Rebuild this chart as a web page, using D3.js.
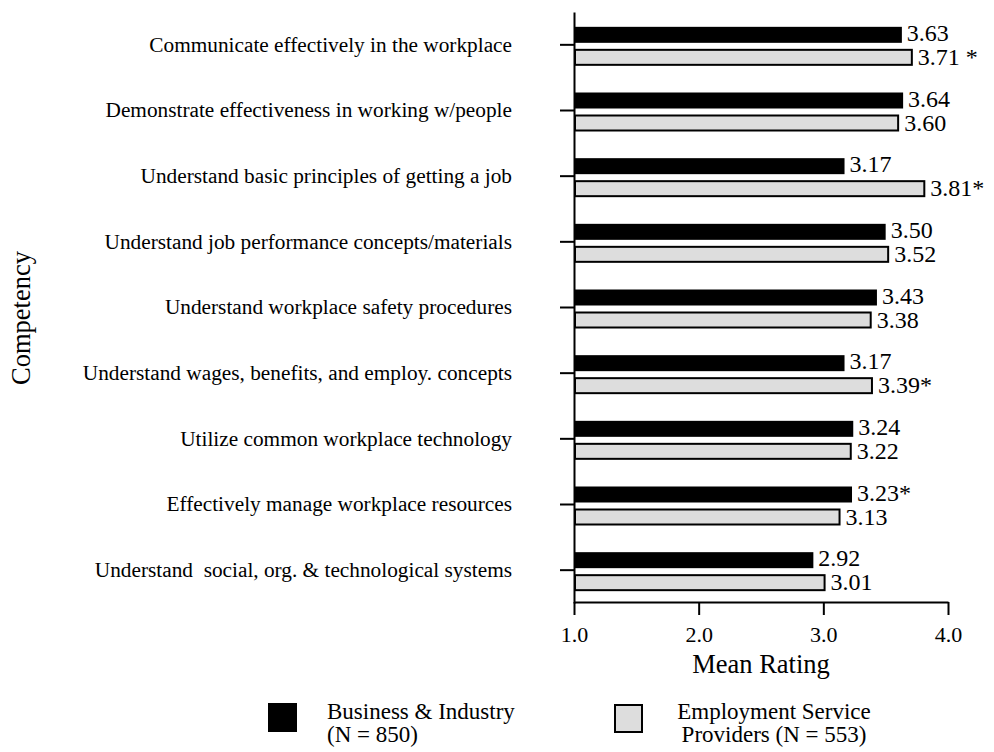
<!DOCTYPE html>
<html>
<head>
  <title>Competency mean ratings</title>
</head>
<style>
  body {
    margin: 0;
    background: white;
  }
  text {
    font-family: "Liberation Serif", "Times New Roman", serif;
    fill: black;
  }
</style>
<body>
  <script src="https://d3js.org/d3.v7.min.js"></script>
  <script>
    // competencies, top to bottom
    const categories = [
      "Communicate effectively in the workplace",
      "Demonstrate effectiveness in working w/people",
      "Understand basic principles of getting a job",
      "Understand job performance concepts/materials",
      "Understand workplace safety procedures",
      "Understand wages, benefits, and employ. concepts",
      "Utilize common workplace technology",
      "Effectively manage workplace resources",
      "Understand  social, org. & technological systems"
    ];
    const business = [3.63, 3.64, 3.17, 3.50, 3.43, 3.17, 3.24, 3.23, 2.92];
    const employment = [3.71, 3.60, 3.81, 3.52, 3.38, 3.39, 3.22, 3.13, 3.01];
    // significance marks after the value
    const businessSig = ["", "", "", "", "", "", "", "*", ""];
    const employmentSig = [" *", "", "*", "", "", "*", "", "", ""];
    const xTicks = [1, 2, 3, 4];
    const legendBusiness = ["Business & Industry", "(N = 850)"];
    const legendEmployment = ["Employment Service", "Providers (N = 553)"];

    const w = 994;
    const h = 752;
    const grayFill = "#dddddd";

    const svg = d3.select("body")
                  .append("svg")
                  .attr("width", w)
                  .attr("height", h)

    const x = d3.scaleLinear().domain([1, 4]).range([574, 948]);
    const y = d3.scaleBand().domain(categories).range([12, 603]).padding(0);
    const c = d => y(d) + y.bandwidth() / 2;

    // bars
    svg.append("g")
       .selectAll("rect")
       .data(categories)
       .join("rect")
       .attr("x", x(1))
       .attr("y", d => c(d) - 18)
       .attr("width", (d, i) => x(business[i]) - x(1))
       .attr("height", 16)
       .attr("fill", "black")

    svg.append("g")
       .selectAll("rect")
       .data(categories)
       .join("rect")
       .attr("x", x(1) + 1)
       .attr("y", d => c(d) + 5)
       .attr("width", (d, i) => x(employment[i]) - x(1) - 1)
       .attr("height", 15)
       .attr("fill", grayFill)
       .attr("stroke", "black")
       .attr("stroke-width", 2)

    // value labels
    svg.append("g")
       .selectAll("text")
       .data(categories)
       .join("text")
       .attr("x", (d, i) => x(business[i]) + 5)
       .attr("y", d => c(d) - 4)
       .attr("font-size", 24)
       .style("white-space", "pre")
       .text((d, i) => business[i].toFixed(2) + businessSig[i])

    svg.append("g")
       .selectAll("text")
       .data(categories)
       .join("text")
       .attr("x", (d, i) => x(employment[i]) + 6)
       .attr("y", d => c(d) + 20)
       .attr("font-size", 24)
       .style("white-space", "pre")
       .text((d, i) => employment[i].toFixed(2) + employmentSig[i])

    // axes
    const yAxis = svg.append("g")
       .attr("transform", "translate(" + x(1) + ",0)")
       .call(d3.axisLeft(y).tickSize(14).tickPadding(48).tickSizeOuter(0))
    yAxis.selectAll("text")
       .attr("font-size", 21.3)
       .style("white-space", "pre")
    yAxis.attr("font-family", null)

    const xAxis = svg.append("g")
       .attr("transform", "translate(0,602)")
       .call(d3.axisBottom(x).tickValues(xTicks).tickFormat(d3.format(".1f"))
             .tickSize(13).tickPadding(11).tickSizeOuter(0))
    xAxis.selectAll("text").attr("font-size", 22)
    xAxis.attr("font-family", null)

    svg.selectAll(".domain, .tick line")
       .attr("stroke", "black")
       .attr("stroke-width", 2)

    // axis titles
    svg.append("text")
       .attr("x", 761)
       .attr("y", 673)
       .attr("text-anchor", "middle")
       .attr("font-size", 26.5)
       .text("Mean Rating")

    svg.append("text")
       .attr("transform", "translate(30,318) rotate(-90)")
       .attr("text-anchor", "middle")
       .attr("font-size", 26.5)
       .text("Competency")

    // legend
    svg.append("rect")
       .attr("x", 268).attr("y", 703)
       .attr("width", 29).attr("height", 29)
       .attr("fill", "black")

    svg.append("rect")
       .attr("x", 615).attr("y", 705)
       .attr("width", 27).attr("height", 27)
       .attr("fill", grayFill)
       .attr("stroke", "black")
       .attr("stroke-width", 2)

    // two-line legend labels, one text each
    svg.append("text")
       .attr("font-size", 23)
       .selectAll("tspan")
       .data(legendBusiness)
       .join("tspan")
       .attr("x", 327)
       .attr("y", (d, i) => 719 + i * 23)
       .text(d => d)

    svg.append("text")
       .attr("font-size", 23)
       .attr("text-anchor", "middle")
       .selectAll("tspan")
       .data(legendEmployment)
       .join("tspan")
       .attr("x", 774)
       .attr("y", (d, i) => 719 + i * 23)
       .text(d => d)
  </script>
</body>
</html>
